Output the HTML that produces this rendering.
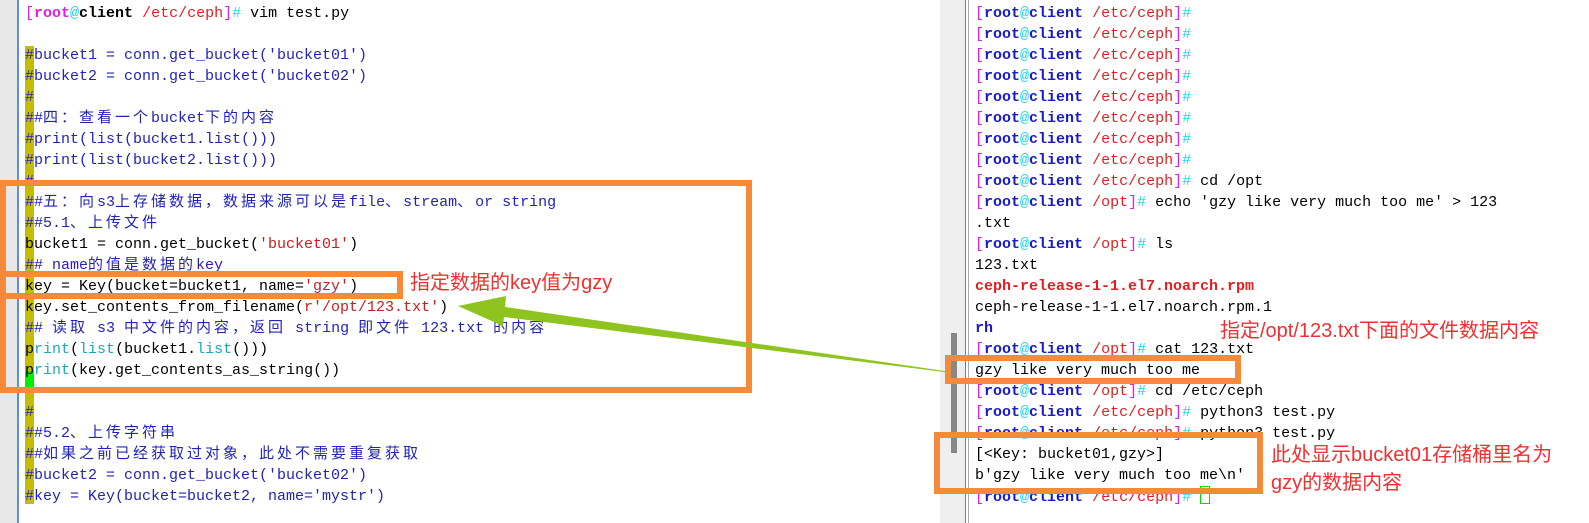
<!DOCTYPE html>
<html><head><meta charset="utf-8"><style>
html,body{margin:0;padding:0;}
body{width:1589px;height:523px;position:relative;overflow:hidden;background:#fff;font-family:"Liberation Mono","Noto Sans CJK SC",monospace;}
.l{position:absolute;white-space:pre;font-size:15px;line-height:21px;height:21px;color:#000;}
.z{letter-spacing:3px}
.c{color:#2323b8}
.s{color:#c81e1e}
.f{color:#1aa8b8}
.m{color:#e020e0}
.b{color:#1a1ac8;font-weight:bold}
.r{color:#e02020}
.y{color:#20d8e8}
.k{color:#000;font-weight:bold}
.box{position:absolute;border:6px solid #f58a3a;box-sizing:border-box;}
.ann{position:absolute;color:#f03030;font-family:"Liberation Sans","Noto Sans CJK SC",sans-serif;font-size:20px;white-space:nowrap;line-height:24px;}
</style></head><body>
<!-- left pane -->
<div style="position:absolute;left:0;top:0;width:17px;height:523px;background:#e8e8e8"></div>
<div style="position:absolute;left:17px;top:0;width:2px;height:523px;background:#5b8fd6"></div>
<div style="position:absolute;left:25px;top:46px;width:9px;height:458px;background:#c4bc00"></div>
<div style="position:absolute;left:25px;top:371px;width:9px;height:19px;background:#00f000"></div>
<!-- right pane -->
<div style="position:absolute;left:930px;top:0;width:659px;height:523px;background:#fff"></div>
<div style="position:absolute;left:940px;top:0;width:25px;height:523px;background:#efefef"></div>
<div style="position:absolute;left:951px;top:333px;width:6px;height:120px;background:#888"></div>
<div style="position:absolute;left:965px;top:0;width:1px;height:523px;background:#3a8be0"></div>
<div style="position:absolute;left:968px;top:0;width:1px;height:523px;background:#aaa"></div>

<div class="l" style="left:25px;top:3px"><span class="m">[</span><span class="m" style="font-weight:bold">root</span><span class="y">@</span><span class="k">client</span> <span class="r">/etc/ceph</span><span class="m">]</span><span class="y">#</span> vim test.py</div>
<div class="l c" style="left:25px;top:45px">#bucket1 = conn.get_bucket('bucket01')</div>
<div class="l c" style="left:25px;top:66px">#bucket2 = conn.get_bucket('bucket02')</div>
<div class="l c" style="left:25px;top:87px">#</div>
<div class="l c" style="left:25px;top:108px">##<span class="z">四：查看一个</span>bucket<span class="z">下的内容</span></div>
<div class="l c" style="left:25px;top:129px">#print(list(bucket1.list()))</div>
<div class="l c" style="left:25px;top:150px">#print(list(bucket2.list()))</div>
<div class="l c" style="left:25px;top:171px">#</div>
<div class="l c" style="left:25px;top:192px">##<span class="z">五：向</span>s3<span class="z">上存储数据，数据来源可以是</span>file<span class="z">、</span>stream<span class="z">、</span>or string</div>
<div class="l c" style="left:25px;top:213px">##5.1<span class="z">、上传文件</span></div>
<div class="l" style="left:25px;top:234px">bucket1 = conn.get_bucket(<span class="s">'bucket01'</span>)</div>
<div class="l c" style="left:25px;top:255px">## name<span class="z">的值是数据的</span>key</div>
<div class="l" style="left:25px;top:276px">key = Key(bucket=bucket1, name=<span class="s">'gzy'</span>)</div>
<div class="l" style="left:25px;top:297px">key.set_contents_from_filename(<span class="s">r'/opt/123.txt'</span>)</div>
<div class="l c" style="left:25px;top:318px">## <span class="z">读取</span> s3 <span class="z">中文件的内容，返回</span> string <span class="z">即文件</span> 123.txt <span class="z">的内容</span></div>
<div class="l" style="left:25px;top:339px">p<span class="f">rint</span>(<span class="f">list</span>(bucket1.<span class="f">list</span>()))</div>
<div class="l" style="left:25px;top:360px">p<span class="f">rint</span>(key.get_contents_as_string())</div>
<div class="l c" style="left:25px;top:402px">#</div>
<div class="l c" style="left:25px;top:423px">##5.2<span class="z">、上传字符串</span></div>
<div class="l c" style="left:25px;top:444px">##<span class="z">如果之前已经获取过对象，此处不需要重复获取</span></div>
<div class="l c" style="left:25px;top:465px">#bucket2 = conn.get_bucket('bucket02')</div>
<div class="l c" style="left:25px;top:486px">#key = Key(bucket=bucket2, name='mystr')</div>

<!-- right text -->
<div class="l" style="left:975px;top:3px"><span class="m">[</span><span class="b">root</span><span class="y">@</span><span class="b">client</span> <span class="r">/etc/ceph</span><span class="m">]</span><span class="y">#</span></div>
<div class="l" style="left:975px;top:24px"><span class="m">[</span><span class="b">root</span><span class="y">@</span><span class="b">client</span> <span class="r">/etc/ceph</span><span class="m">]</span><span class="y">#</span></div>
<div class="l" style="left:975px;top:45px"><span class="m">[</span><span class="b">root</span><span class="y">@</span><span class="b">client</span> <span class="r">/etc/ceph</span><span class="m">]</span><span class="y">#</span></div>
<div class="l" style="left:975px;top:66px"><span class="m">[</span><span class="b">root</span><span class="y">@</span><span class="b">client</span> <span class="r">/etc/ceph</span><span class="m">]</span><span class="y">#</span></div>
<div class="l" style="left:975px;top:87px"><span class="m">[</span><span class="b">root</span><span class="y">@</span><span class="b">client</span> <span class="r">/etc/ceph</span><span class="m">]</span><span class="y">#</span></div>
<div class="l" style="left:975px;top:108px"><span class="m">[</span><span class="b">root</span><span class="y">@</span><span class="b">client</span> <span class="r">/etc/ceph</span><span class="m">]</span><span class="y">#</span></div>
<div class="l" style="left:975px;top:129px"><span class="m">[</span><span class="b">root</span><span class="y">@</span><span class="b">client</span> <span class="r">/etc/ceph</span><span class="m">]</span><span class="y">#</span></div>
<div class="l" style="left:975px;top:150px"><span class="m">[</span><span class="b">root</span><span class="y">@</span><span class="b">client</span> <span class="r">/etc/ceph</span><span class="m">]</span><span class="y">#</span></div>
<div class="l" style="left:975px;top:171px"><span class="m">[</span><span class="b">root</span><span class="y">@</span><span class="b">client</span> <span class="r">/etc/ceph</span><span class="m">]</span><span class="y">#</span> cd /opt</div>
<div class="l" style="left:975px;top:192px"><span class="m">[</span><span class="b">root</span><span class="y">@</span><span class="b">client</span> <span class="r">/opt</span><span class="m">]</span><span class="y">#</span> echo 'gzy like very much too me' &gt; 123</div>
<div class="l" style="left:975px;top:213px">.txt</div>
<div class="l" style="left:975px;top:234px"><span class="m">[</span><span class="b">root</span><span class="y">@</span><span class="b">client</span> <span class="r">/opt</span><span class="m">]</span><span class="y">#</span> ls</div>
<div class="l" style="left:975px;top:255px">123.txt</div>
<div class="l" style="left:975px;top:276px;color:#e02020;font-weight:bold">ceph-release-1-1.el7.noarch.rpm</div>
<div class="l" style="left:975px;top:297px">ceph-release-1-1.el7.noarch.rpm.1</div>
<div class="l b" style="left:975px;top:318px">rh</div>
<div class="l" style="left:975px;top:339px"><span class="m">[</span><span class="b">root</span><span class="y">@</span><span class="b">client</span> <span class="r">/opt</span><span class="m">]</span><span class="y">#</span> cat 123.txt</div>
<div class="l" style="left:975px;top:360px">gzy like very much too me</div>
<div class="l" style="left:975px;top:381px"><span class="m">[</span><span class="b">root</span><span class="y">@</span><span class="b">client</span> <span class="r">/opt</span><span class="m">]</span><span class="y">#</span> cd /etc/ceph</div>
<div class="l" style="left:975px;top:402px"><span class="m">[</span><span class="b">root</span><span class="y">@</span><span class="b">client</span> <span class="r">/etc/ceph</span><span class="m">]</span><span class="y">#</span> python3 test.py</div>
<div class="l" style="left:975px;top:423px"><span class="m">[</span><span class="b">root</span><span class="y">@</span><span class="b">client</span> <span class="r">/etc/ceph</span><span class="m">]</span><span class="y">#</span> python3 test.py</div>
<div class="l" style="left:975px;top:444px">[&lt;Key: bucket01,gzy&gt;]</div>
<div class="l" style="left:975px;top:465px">b'gzy like very much too me\n'</div>
<div class="l" style="left:975px;top:486px"><span class="m">[</span><span class="b">root</span><span class="y">@</span><span class="b">client</span> <span class="r">/etc/ceph</span><span class="m">]</span><span class="y">#</span> <span style="display:inline-block;width:8px;height:16px;border:1px solid #00e000;vertical-align:-3px"></span></div>

<!-- orange boxes -->
<div class="box" style="left:0;top:180px;width:752px;height:213px"></div>
<div class="box" style="left:0;top:271px;width:403px;height:28px"></div>
<div class="box" style="left:945px;top:355px;width:296px;height:29px"></div>
<div class="box" style="left:934px;top:432px;width:329px;height:62px"></div>

<!-- annotations -->
<div class="ann" style="left:410px;top:271px">指定数据的key值为gzy</div>
<div class="ann" style="left:1220px;top:319px">指定/opt/123.txt下面的文件数据内容</div>
<div class="ann" style="left:1271px;top:443px">此处显示bucket01存储桶里名为</div>
<div class="ann" style="left:1271px;top:471px">gzy的数据内容</div>

<svg style="position:absolute;left:0;top:0" width="1589" height="523">
<polygon points="458,306 506,296 505,307 948,371.5 948,372.5 504,317 503,326" fill="#8fc31f"/>
</svg>
</body></html>
